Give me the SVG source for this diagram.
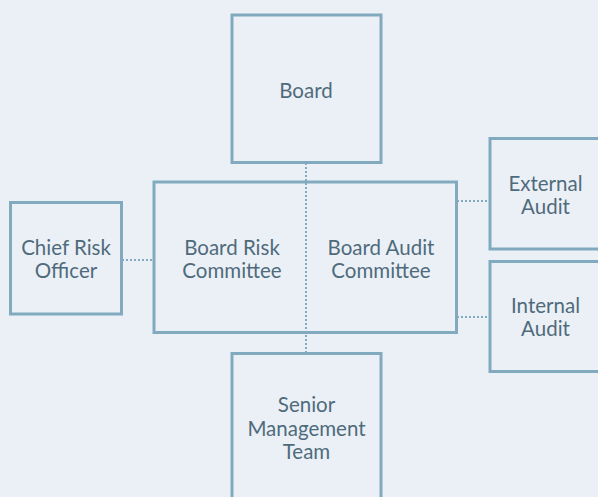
<svg xmlns="http://www.w3.org/2000/svg" width="598" height="497" viewBox="0 0 598 497">
  <style>
    .box { fill: none; stroke: #82aabf; stroke-width: 3; }
    .link { fill: none; stroke: #82aabf; stroke-width: 2; stroke-dasharray: 2 2; }
    .label { font-family: Lato, "Open Sans", sans-serif; font-size: 20.5px; fill: #4f6b7b; text-anchor: middle; }
  </style>
  <rect width="598" height="497" fill="#ebf0f7"/>

  <g id="connectors">
    <line class="link" x1="306" y1="163" x2="306" y2="352"/>
    <line class="link" x1="122" y1="260" x2="154" y2="260"/>
    <line class="link" x1="457" y1="201" x2="490" y2="201"/>
    <line class="link" x1="457" y1="317" x2="490" y2="317"/>
  </g>

  <g id="board">
    <rect class="box" x="232" y="15" width="149" height="147.5"/>
    <text class="label" x="306" y="98">Board</text>
  </g>

  <g id="committees">
    <rect class="box" x="154" y="182" width="302.5" height="150.5"/>
    <text class="label" x="232" y="255">Board Risk</text>
    <text class="label" x="232" y="278">Committee</text>
    <text class="label" x="381" y="255">Board Audit</text>
    <text class="label" x="381" y="278">Committee</text>
  </g>

  <g id="chief-risk-officer">
    <rect class="box" x="10.5" y="202.5" width="111" height="111.5"/>
    <text class="label" x="66" y="255">Chief Risk</text>
    <text class="label" x="66" y="278">Officer</text>
  </g>

  <g id="external-audit">
    <rect class="box" x="490" y="138.5" width="120" height="110.5"/>
    <text class="label" x="545.5" y="191">External</text>
    <text class="label" x="545.5" y="214">Audit</text>
  </g>

  <g id="internal-audit">
    <rect class="box" x="490" y="261.5" width="120" height="110"/>
    <text class="label" x="545.5" y="313">Internal</text>
    <text class="label" x="545.5" y="336">Audit</text>
  </g>

  <g id="senior-management-team">
    <rect class="box" x="232" y="353.5" width="149" height="160"/>
    <text class="label" x="306.5" y="412">Senior</text>
    <text class="label" x="306.5" y="435.5">Management</text>
    <text class="label" x="306.5" y="459">Team</text>
  </g>
</svg>
